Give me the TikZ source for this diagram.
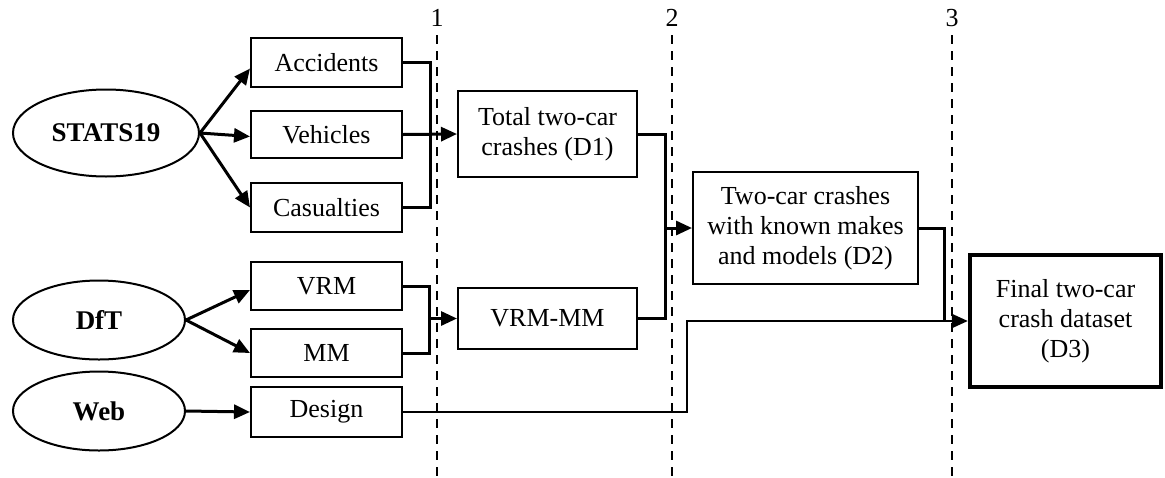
\documentclass[tikz,border=0pt]{standalone}
\usepackage{fontspec}
\setmainfont{Liberation Serif}
\usetikzlibrary{shapes.geometric,arrows.meta}
\begin{document}
\begin{tikzpicture}[x=0.5pt,y=-0.5pt,
  font=\fontsize{13}{15}\selectfont,
  box/.style={draw,line width=1pt,inner sep=0pt,align=center,minimum width=75.5pt},
  midbox/.style={draw,line width=1pt,inner sep=0pt,align=center},
  src/.style={draw,ellipse,line width=1pt,inner sep=0pt,font=\fontsize{13.5}{15}\selectfont\bfseries},
  conn/.style={line width=1.5pt},
  arr/.style={conn,-{Triangle[length=8pt,width=7pt]}},
  thinarr/.style={line width=1.1pt,-{Triangle[length=8pt,width=7pt]}},
  sep/.style={line width=1pt,dash pattern=on 4.5pt off 3.5pt},
  lbl/.style={inner sep=0pt}]
\useasboundingbox (0,0) rectangle (1165,477);

% sources
\node[src,minimum width=93pt,minimum height=43.5pt] (stats) at (106,133) {STATS19};
\node[src,minimum width=86pt,minimum height=39.5pt] (dft) at (99,320) {DfT};
\node[src,minimum width=86pt,minimum height=39.5pt] (web) at (99,411) {Web};

% first column
\node[box,minimum height=24.5pt] (acc) at (326.5,62.5) {Accidents};
\node[box,minimum height=23.5pt] (veh) at (326.5,134.5) {Vehicles};
\node[box,minimum height=24.5pt] (cas) at (326.5,207.5) {Casualties};
\node[box,minimum height=24pt] (vrm) at (326.5,286) {VRM};
\node[box,minimum height=24pt] (mm) at (326.5,353) {MM};
\node[box,minimum height=25pt] (des) at (326.5,412) {Design};

% second column
\node[midbox,minimum width=89.5pt,minimum height=43pt] (tot) at (547.5,134) {Total two-car\\crashes (D1)};
\node[midbox,minimum width=89.5pt,minimum height=30.5pt] (vmm) at (547.5,318.5) {VRM-MM};

% third column
\node[midbox,minimum width=112.5pt,minimum height=56pt] (d2) at (805.5,228) {Two-car crashes\\with known makes\\and models (D2)};

% final
\node[draw,line width=2.2pt,inner sep=0pt,align=center,minimum width=95.5pt,minimum height=66pt] (d3) at (1065.5,321) {Final two-car\\crash dataset\\(D3)};

% stage separators
\node[lbl] (l1) at (437,18) {1};
\node[lbl] (l2) at (672,18) {2};
\node[lbl] (l3) at (952,18) {3};
\coordinate (b1) at (437,477);
\coordinate (b2) at (672,477);
\coordinate (b3) at (952,477);
\draw[sep] (437,35) -- (b1);
\draw[sep] (672,35) -- (b2);
\draw[sep] (952,35) -- (b3);

% source arrows
\draw[arr] (stats.east) -- ([yshift=-3pt]acc.west);
\draw[arr] (stats.east) -- ([yshift=-1pt]veh.west);
\draw[arr] (stats.east) -- (cas.west);
\draw[arr] (dft.east) -- ([yshift=-2pt]vrm.west);
\draw[arr] (dft.east) -- (mm.west);
\draw[arr] (web.east) -- (des.west);

% joins
\coordinate (j1) at (430,0);
\coordinate (j2) at (429,0);
\coordinate (j3) at (665,0);
\coordinate (j4) at (944,0);
\coordinate (j5) at (687,0);

\draw[conn] (acc.east) -| (j1 |- cas.east) -- (cas.east);
\draw[arr] (veh.east) -- (tot.west);

\draw[conn] (vrm.east) -| (j2 |- mm.east) -- (mm.east);
\draw[arr] (j2 |- vmm.west) -- (vmm.west);

\draw[conn] (tot.east) -| (j3 |- vmm.east) -- (vmm.east);
\draw[arr] (j3 |- d2.west) -- (d2.west);

\draw[conn] (d2.east) -| (j4 |- d3.west);
\draw[thinarr] (des.east) -| (j5 |- d3.west) -- (d3.west);
\end{tikzpicture}
\end{document}
